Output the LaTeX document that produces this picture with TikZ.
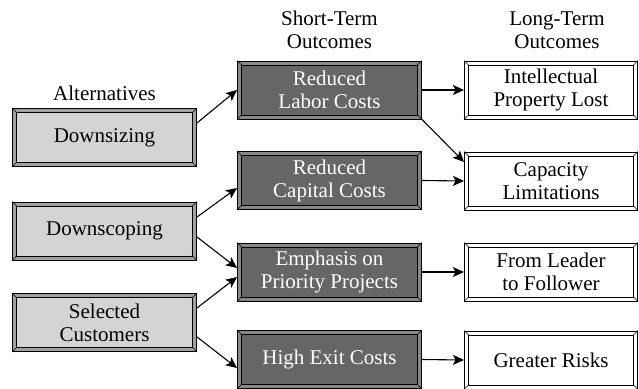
\documentclass[tikz,border=0pt]{standalone}
\usepackage{fontspec}
\setmainfont{Liberation Serif}
\usetikzlibrary{arrows.meta}
\definecolor{altgray}{RGB}{212,212,212}
\definecolor{altband}{RGB}{160,160,160}
\definecolor{shortgray}{RGB}{102,102,104}
\definecolor{bandgray}{RGB}{136,136,138}
\begin{document}
\begin{tikzpicture}[x=1pt,y=1pt,
	every node/.style={font=\fontsize{21}{23}\selectfont},
	frame/.style={draw, line width=1pt, double distance=3pt, outer sep=2.5pt,
		inner sep=0pt, minimum height=54pt, align=center},
	altbox/.style={frame, fill=altgray, double=altband, minimum width=180pt},
	shortbox/.style={frame, fill=shortgray, double=bandgray, text=white, minimum width=180pt},
	longbox/.style={frame, fill=white, double=white, minimum width=169pt},
	header/.style={align=center, inner sep=0pt},
	link/.style={line width=1.1pt, -{Stealth[length=11pt,width=10pt,inset=2.5pt]}}]
				\useasboundingbox (0,0) rectangle (639,-388);
				% headers
				\node[header] (halt) at (104.5,-93) {Alternatives};
				\node[header] (hshort) at (329.5,-30) {Short-Term\\Outcomes};
				\node[header] (hlong) at (557,-30) {Long-Term\\Outcomes};
				% alternatives
				\node[altbox] (dsz) at (104.5,-137.5) {Downsizing};
				\node[altbox] (dsc) at (104.5,-231) {Downscoping};
				\node[altbox] (sel) at (104.5,-322.5) {Selected\\Customers};
				% short-term outcomes
				\node[shortbox] (rlc) at (329.5,-90) {Reduced\\Labor Costs};
				\node[shortbox] (rcc) at (329.5,-180.5) {Reduced\\Capital Costs};
				\node[shortbox] (epp) at (329.5,-272) {Emphasis on\\Priority Projects};
				\node[shortbox] (hec) at (329.5,-359.5) {High Exit Costs};
				% long-term outcomes
				\node[longbox] (ipl) at (551,-90) {Intellectual\\Property Lost};
				\node[longbox] (cap) at (551,-181) {Capacity\\Limitations};
				\node[longbox] (flf) at (551,-272) {From Leader\\to Follower};
				\node[longbox] (grk) at (551,-360) {Greater Risks};
				% bevelled corners
				\foreach \n in {dsz,dsc,sel,rlc,rcc,epp,hec,ipl,cap,flf,grk}{
					\draw[line width=.5pt] (\n.north west) -- ++(5,-5);
					\draw[line width=.5pt] (\n.north east) -- ++(-5,-5);
					\draw[line width=.5pt] (\n.south west) -- ++(5,5);
					\draw[line width=.5pt] (\n.south east) -- ++(-5,5);
				}
				% connectors
				\draw[link] ([yshift=14.5]dsz.east) -- (rlc.west);
				\draw[link] ([yshift=14]dsc.east) -- ([yshift=-7.5]rcc.west);
				\draw[link] ([yshift=-6]dsc.east) -- ([yshift=4]epp.west);
				\draw[link] ([yshift=14.5]sel.east) -- ([yshift=-5]epp.west);
				\draw[link] ([yshift=-14.5]sel.east) -- ([yshift=-8.5]hec.west);
				\draw[link] (rlc.east) -- (ipl.west);
				\draw[link] (rlc.south east) -- ([yshift=19]cap.west);
				\draw[link] (rcc.east) -- (cap.west);
				\draw[link] (epp.east) -- (flf.west);
				\draw[link] (hec.east) -- (grk.west);
			\end{tikzpicture}
\end{document}
